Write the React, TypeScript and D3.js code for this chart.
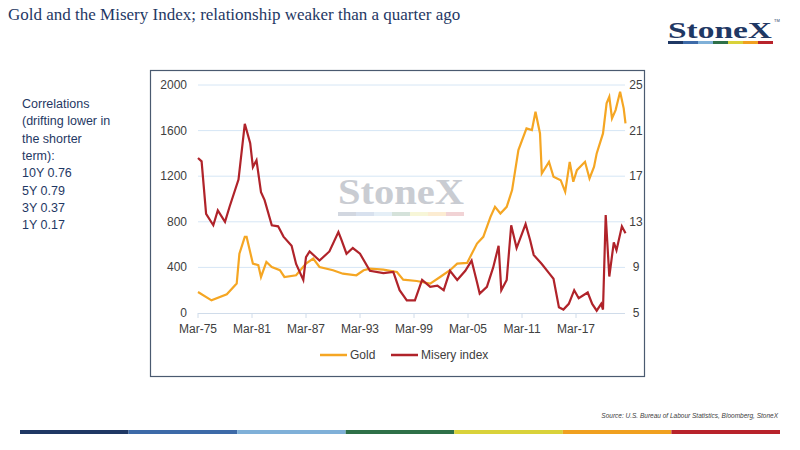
import { useEffect, useRef } from 'react';
import * as d3 from 'd3';

const goldYears = [1975.2,1976.7,1978.4,1979.5,1979.8,1980.4,1980.6,1981.3,1981.9,1982.2,1982.8,1983.4,1984.3,1984.8,1986.1,1987.2,1988.0,1988.7,1990.2,1991.3,1992.8,1993.6,1994.3,1995.8,1997.3,1998.0,1999.5,2001.0,2002.1,2003.2,2004.0,2005.1,2006.2,2006.9,2007.7,2008.2,2008.8,2009.5,2010.1,2010.8,2011.7,2012.3,2012.7,2013.2,2013.4,2014.2,2014.7,2015.5,2016.0,2016.5,2016.9,2017.3,2018.2,2018.7,2019.2,2019.5,2020.2,2020.6,2020.9,2021.2,2021.6,2022.1,2022.5,2022.7];
const goldValues = [184,111,164,258,521,668,668,433,419,316,448,404,375,316,331,433,477,404,375,345,331,375,389,381,360,293,281,258,316,375,433,439,609,668,843,931,873,931,1078,1429,1619,1604,1766,1575,1224,1326,1195,1165,1063,1326,1151,1253,1326,1180,1282,1400,1575,1839,1897,1707,1780,1941,1795,1663];

const miseryYears = [1975.2,1975.6,1976.1,1976.9,1977.4,1978.2,1978.7,1979.7,1980.4,1981.0,1981.3,1981.7,1982.2,1982.6,1983.4,1984.1,1984.7,1985.6,1986.1,1986.9,1987.2,1987.6,1988.7,1989.8,1990.8,1991.1,1991.7,1992.4,1993.2,1994.3,1995.8,1996.9,1997.6,1998.4,1999.3,2000.1,2001.0,2001.8,2002.5,2003.2,2004.0,2004.9,2005.6,2006.2,2006.5,2007.3,2008.0,2008.6,2008.9,2009.5,2010.0,2010.6,2011.6,2012.1,2012.5,2013.4,2014.2,2014.7,2015.3,2015.8,2016.4,2017.0,2017.5,2018.5,2019.0,2019.5,2020.0,2020.2,2020.5,2020.9,2021.4,2021.7,2022.3,2022.7];
const miseryValues = [18.6,18.3,13.7,12.7,14.0,13.0,14.3,16.7,21.6,19.9,17.8,18.4,15.6,14.9,12.7,12.6,11.7,10.9,9.3,7.9,9.9,10.4,9.6,10.4,12.1,11.5,10.2,10.7,10.2,8.7,8.5,8.6,7.0,6.1,6.1,7.9,7.3,7.4,7.0,8.7,7.9,8.7,9.6,7.7,6.7,7.3,9.0,10.9,7.0,7.9,12.7,10.7,12.8,11.4,10.1,9.3,8.5,8.0,5.5,5.3,5.8,7.0,6.3,6.8,5.8,5.2,5.8,5.3,13.6,8.2,11.2,10.5,12.6,12.0];

const xTickYears = [1975, 1981, 1987, 1993, 1999, 2005, 2011, 2017];
const leftTicks = [0, 400, 800, 1200, 1600, 2000];
const rightTicks = [5, 9, 13, 17, 21, 25];
const noteLines = ['Correlations', '(drifting lower in', 'the shorter', 'term):', '10Y 0.76', '5Y 0.79', '3Y 0.37', '1Y 0.17'];
const brandColors = ['#1f3864', '#3d6aa8', '#7fb0d8', '#2e7048', '#d9d23a', '#f0a020', '#b8232b'];

export default function App() {
  const ref = useRef<SVGSVGElement>(null);

  useEffect(() => {
    const svg = d3.select(ref.current);
    svg.selectAll('*').remove();
    const font = 'Arial, "Liberation Sans", sans-serif';
    const serif = '"Times New Roman", "Liberation Serif", serif';

    svg.append('rect').attr('width', 800).attr('height', 450).attr('fill', '#ffffff');

    svg.append('text').attr('x', 8).attr('y', 20).attr('font-family', serif)
      .attr('font-size', 17).attr('fill', '#1f3864').text('Gold and the Misery Index; relationship weaker than a quarter ago');

    // logo
    svg.append('text').attr('x', 668).attr('y', 38).attr('font-family', serif).attr('font-weight', 'bold')
      .attr('font-size', 24).attr('fill', '#1f3864').attr('textLength', 104).attr('lengthAdjust', 'spacingAndGlyphs').text('StoneX');
    svg.append('text').attr('x', 774).attr('y', 22).attr('font-family', font).attr('font-size', 4).attr('fill', '#1f3864').text('TM');
    brandColors.forEach((c, i) => {
      svg.append('rect').attr('x', 668 + i * 15).attr('y', 41).attr('width', 15).attr('height', 3).attr('fill', c);
    });

    // note
    svg.append('g').selectAll('text').data(noteLines).join('text')
      .attr('x', 22).attr('y', (_, i) => 108 + i * 17.3).attr('font-family', font).attr('font-size', 12.5)
      .attr('fill', '#1f3864').text(d => d);

    // frame
    svg.append('rect').attr('x', 150.5).attr('y', 70.5).attr('width', 494).attr('height', 306)
      .attr('fill', 'white').attr('stroke', '#4a5a70').attr('stroke-width', 1.2);

    const x = d3.scaleLinear().domain([1975.2, 2017.2]).range([198, 576]);
    const yL = d3.scaleLinear().domain([0, 2000]).range([313, 85]);
    const yR = d3.scaleLinear().domain([5, 25]).range([313, 85]);

    // watermark
    svg.append('text').attr('x', 338).attr('y', 204).attr('font-family', serif).attr('font-weight', 'bold')
      .attr('font-size', 36).attr('fill', '#c9ccd2').attr('textLength', 126).attr('lengthAdjust', 'spacingAndGlyphs').text('StoneX');
    brandColors.forEach((c, i) => {
      svg.append('rect').attr('x', 338 + i * 18).attr('y', 212).attr('width', 18).attr('height', 4).attr('fill', c).attr('opacity', 0.2);
    });

    svg.append('g').selectAll('line').data(leftTicks.slice(1)).join('line')
      .attr('x1', 198).attr('x2', 625).attr('y1', d => yL(d)).attr('y2', d => yL(d))
      .attr('stroke', '#d6e6f5').attr('stroke-width', 1);
    svg.append('line').attr('x1', 198).attr('x2', 625).attr('y1', 313.5).attr('y2', 313.5).attr('stroke', '#d0dcea');
    svg.append('g').selectAll('line').data(xTickYears).join('line')
      .attr('x1', d => x(d + 0.2)).attr('x2', d => x(d + 0.2)).attr('y1', 313).attr('y2', 318).attr('stroke', '#d0dcea');

    svg.append('g').selectAll('text').data(leftTicks).join('text')
      .attr('x', 187).attr('y', d => yL(d) + 4).attr('text-anchor', 'end').attr('font-family', font).attr('font-size', 12)
      .attr('fill', '#404040').text(d => d);
    svg.append('g').selectAll('text').data(rightTicks).join('text')
      .attr('x', 636).attr('y', d => yR(d) + 4).attr('text-anchor', 'middle').attr('font-family', font).attr('font-size', 12)
      .attr('fill', '#404040').text(d => d);
    svg.append('g').selectAll('text').data(xTickYears).join('text')
      .attr('x', d => x(d + 0.2)).attr('y', 333).attr('text-anchor', 'middle').attr('font-family', font).attr('font-size', 12)
      .attr('fill', '#404040').text(d => 'Mar-' + String(d).slice(2));

    const gold = goldYears.map((t, i) => [x(t), yL(goldValues[i])] as [number, number]);
    const misery = miseryYears.map((t, i) => [x(t), yR(miseryValues[i])] as [number, number]);
    svg.append('path').attr('d', d3.line()(gold)).attr('fill', 'none').attr('stroke', '#f5a623').attr('stroke-width', 2.2);
    svg.append('path').attr('d', d3.line()(misery)).attr('fill', 'none').attr('stroke', '#b0232a').attr('stroke-width', 2.2);

    // legend
    const lg = svg.append('g').attr('font-family', font).attr('font-size', 12).attr('fill', '#404040');
    lg.append('line').attr('x1', 320).attr('x2', 347).attr('y1', 355).attr('y2', 355).attr('stroke', '#f5a623').attr('stroke-width', 2.5);
    lg.append('text').attr('x', 350).attr('y', 359).text('Gold');
    lg.append('line').attr('x1', 391).attr('x2', 418).attr('y1', 355).attr('y2', 355).attr('stroke', '#b0232a').attr('stroke-width', 2.5);
    lg.append('text').attr('x', 421).attr('y', 359).text('Misery index');

    svg.append('text').attr('x', 778).attr('y', 418).attr('text-anchor', 'end').attr('font-family', font).attr('font-style', 'italic')
      .attr('font-size', 6.5).attr('fill', '#404040').text('Source: U.S. Bureau of Labour Statistics, Bloomberg, StoneX');

    const segW = (780 - 20) / brandColors.length;
    brandColors.forEach((c, i) => {
      svg.append('rect').attr('x', 20 + i * segW).attr('y', 430).attr('width', segW).attr('height', 4).attr('fill', c);
    });
  }, []);

  return <svg ref={ref} width={800} height={450} style={{ position: 'absolute', left: 0, top: 0 }} />;
}
